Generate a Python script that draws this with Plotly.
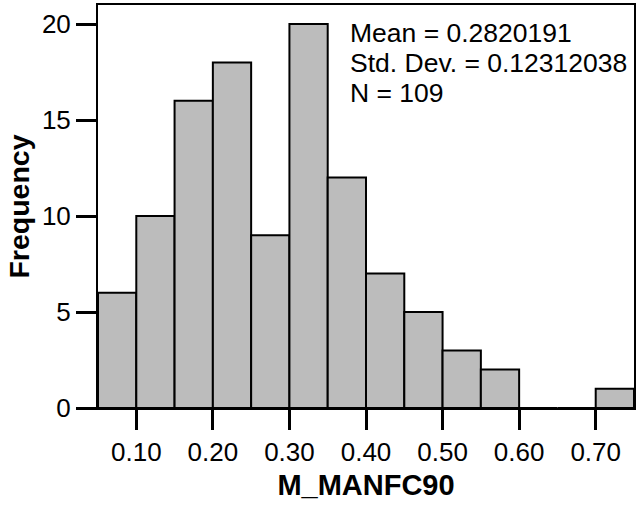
import plotly.graph_objects as go

bin_left = [0.05, 0.10, 0.15, 0.20, 0.25, 0.30, 0.35, 0.40, 0.45, 0.50, 0.55, 0.60, 0.65, 0.70]
counts = [6, 10, 16, 18, 9, 20, 12, 7, 5, 3, 2, 0, 0, 1]
bin_width = 0.05
x_ticks = [0.10, 0.20, 0.30, 0.40, 0.50, 0.60, 0.70]
y_ticks = [0, 5, 10, 15, 20]
stats_lines = ["Mean = 0.2820191", "Std. Dev. = 0.12312038", "N = 109"]

FONT = "Arial, Liberation Sans, sans-serif"

centers = [b + bin_width / 2 for b in bin_left]

fig = go.Figure(go.Bar(
    x=centers, y=counts, width=[bin_width] * len(centers),
    marker=dict(color="#bcbcbc", line=dict(color="black", width=2)),
    hoverinfo="skip",
))

fig.update_layout(
    template="none",
    width=638, height=506,
    margin=dict(l=98, r=4, t=5, b=98),
    paper_bgcolor="white", plot_bgcolor="white",
    showlegend=False,
    font=dict(family=FONT, color="black"),
    xaxis=dict(
        range=[0.05, 0.75], tickvals=x_ticks,
        ticktext=[f"{v:.2f}" for v in x_ticks],
        ticks="outside", ticklen=20, tickwidth=2.5, tickcolor="rgb(0,0,0)",
        showline=True, mirror=True, linecolor="#000000", linewidth=2,
        showgrid=False, zeroline=False,
        tickfont=dict(size=26, family=FONT, color="black"),
        title=dict(text="<b>M_MANFC90</b>", font=dict(size=29, family=FONT, color="black"), standoff=8),
    ),
    yaxis=dict(
        range=[0, 20.99], tickvals=y_ticks,
        ticks="outside", ticklen=20, tickwidth=2.5, tickcolor="rgb(0,0,0)",
        showline=True, mirror=True, linecolor="#000000", linewidth=2,
        showgrid=False, zeroline=False,
        tickfont=dict(size=26, family=FONT, color="black"),
        title=dict(text="<b>Frequency</b>", font=dict(size=28.5, family=FONT, color="black"), standoff=4),
    ),
)

for i, line in enumerate(stats_lines):
    fig.add_annotation(
        x=0.466, y=0.9305 - i * 0.0744, xref="paper", yref="paper",
        xanchor="left", yanchor="middle", showarrow=False,
        text=line, font=dict(size=26.5, family=FONT, color="black"),
    )

fig.write_html("out.html")
